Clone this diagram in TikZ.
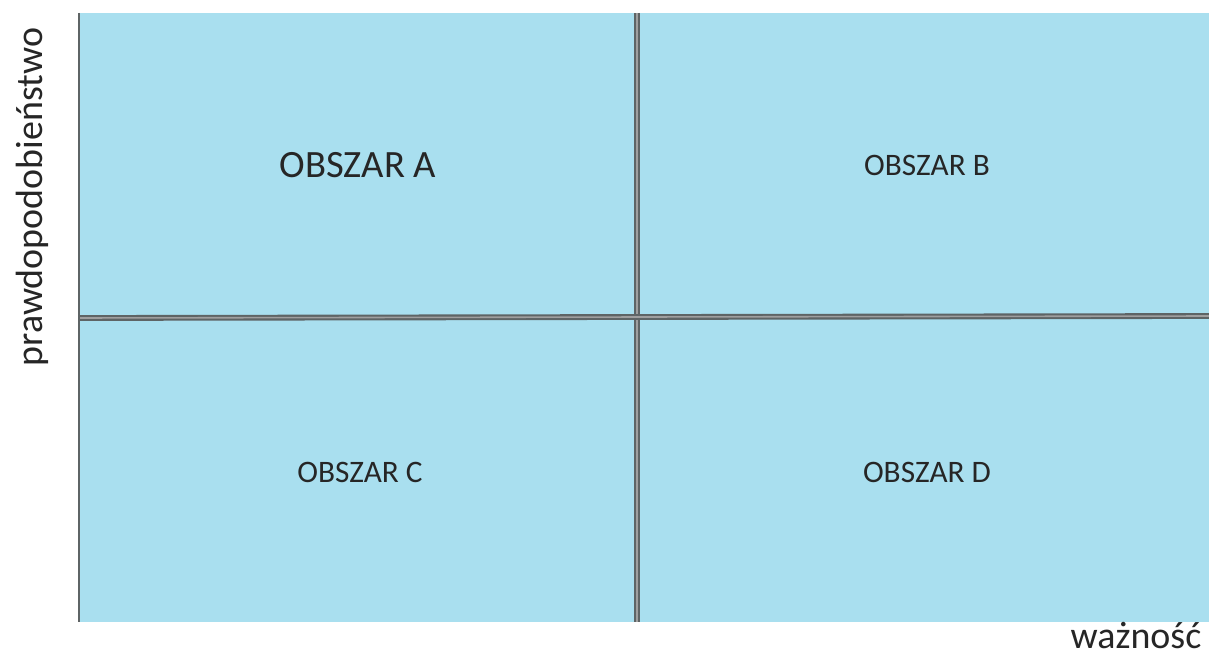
\documentclass[tikz,border=0pt]{standalone}
\usepackage{fontspec}
\setmainfont{Carlito}
\definecolor{areablue}{HTML}{A9DFEF}
\definecolor{divgray}{HTML}{5E6465}
\tikzset{
  areafill/.style={fill=areablue, draw=none},
  divline/.style={draw=divgray, line width=1.2pt, double=gray!75, double distance=0.9pt},
  areatext/.style={font=\fontsize{17.8}{21}\selectfont, text=black!85},
  axistext/.style={font=\fontsize{21.6}{26}\selectfont, text=black!85}
}

\begin{document}
\begin{tikzpicture}[x=0.02cm, y=-0.02cm]
\useasboundingbox (0,0) rectangle (1209,658);
\fill[areafill] (79,13) rectangle (1209,622);

\coordinate (tl) at (79,13);
\coordinate (bl) at (79,622);
\coordinate (ml) at (79,318);
\coordinate (mr) at (1209,316);
\coordinate (mt) at (637,13);
\coordinate (mb) at (637,622);

\draw[divline] (mt) -- (mb);
\draw[divline] (ml) -- (mr);
\draw[draw=divgray, line width=1.2pt] (tl) -- (bl);

\node[areatext, font=\fontsize{22}{26}\selectfont] (obszarA) at (358,165) {OBSZAR A};
\node[areatext] (obszarB) at (927,165) {OBSZAR B};
\node[areatext] (obszarC) at (360,472) {OBSZAR C};
\node[areatext] (obszarD) at (927,472) {OBSZAR D};

\node[axistext, rotate=90] (prawd) at (32,197) {prawdopodobieństwo};
\node[axistext, inner sep=0pt, anchor=base] (waznosc) at (1136,648) {ważność};
\end{tikzpicture}
\end{document}
